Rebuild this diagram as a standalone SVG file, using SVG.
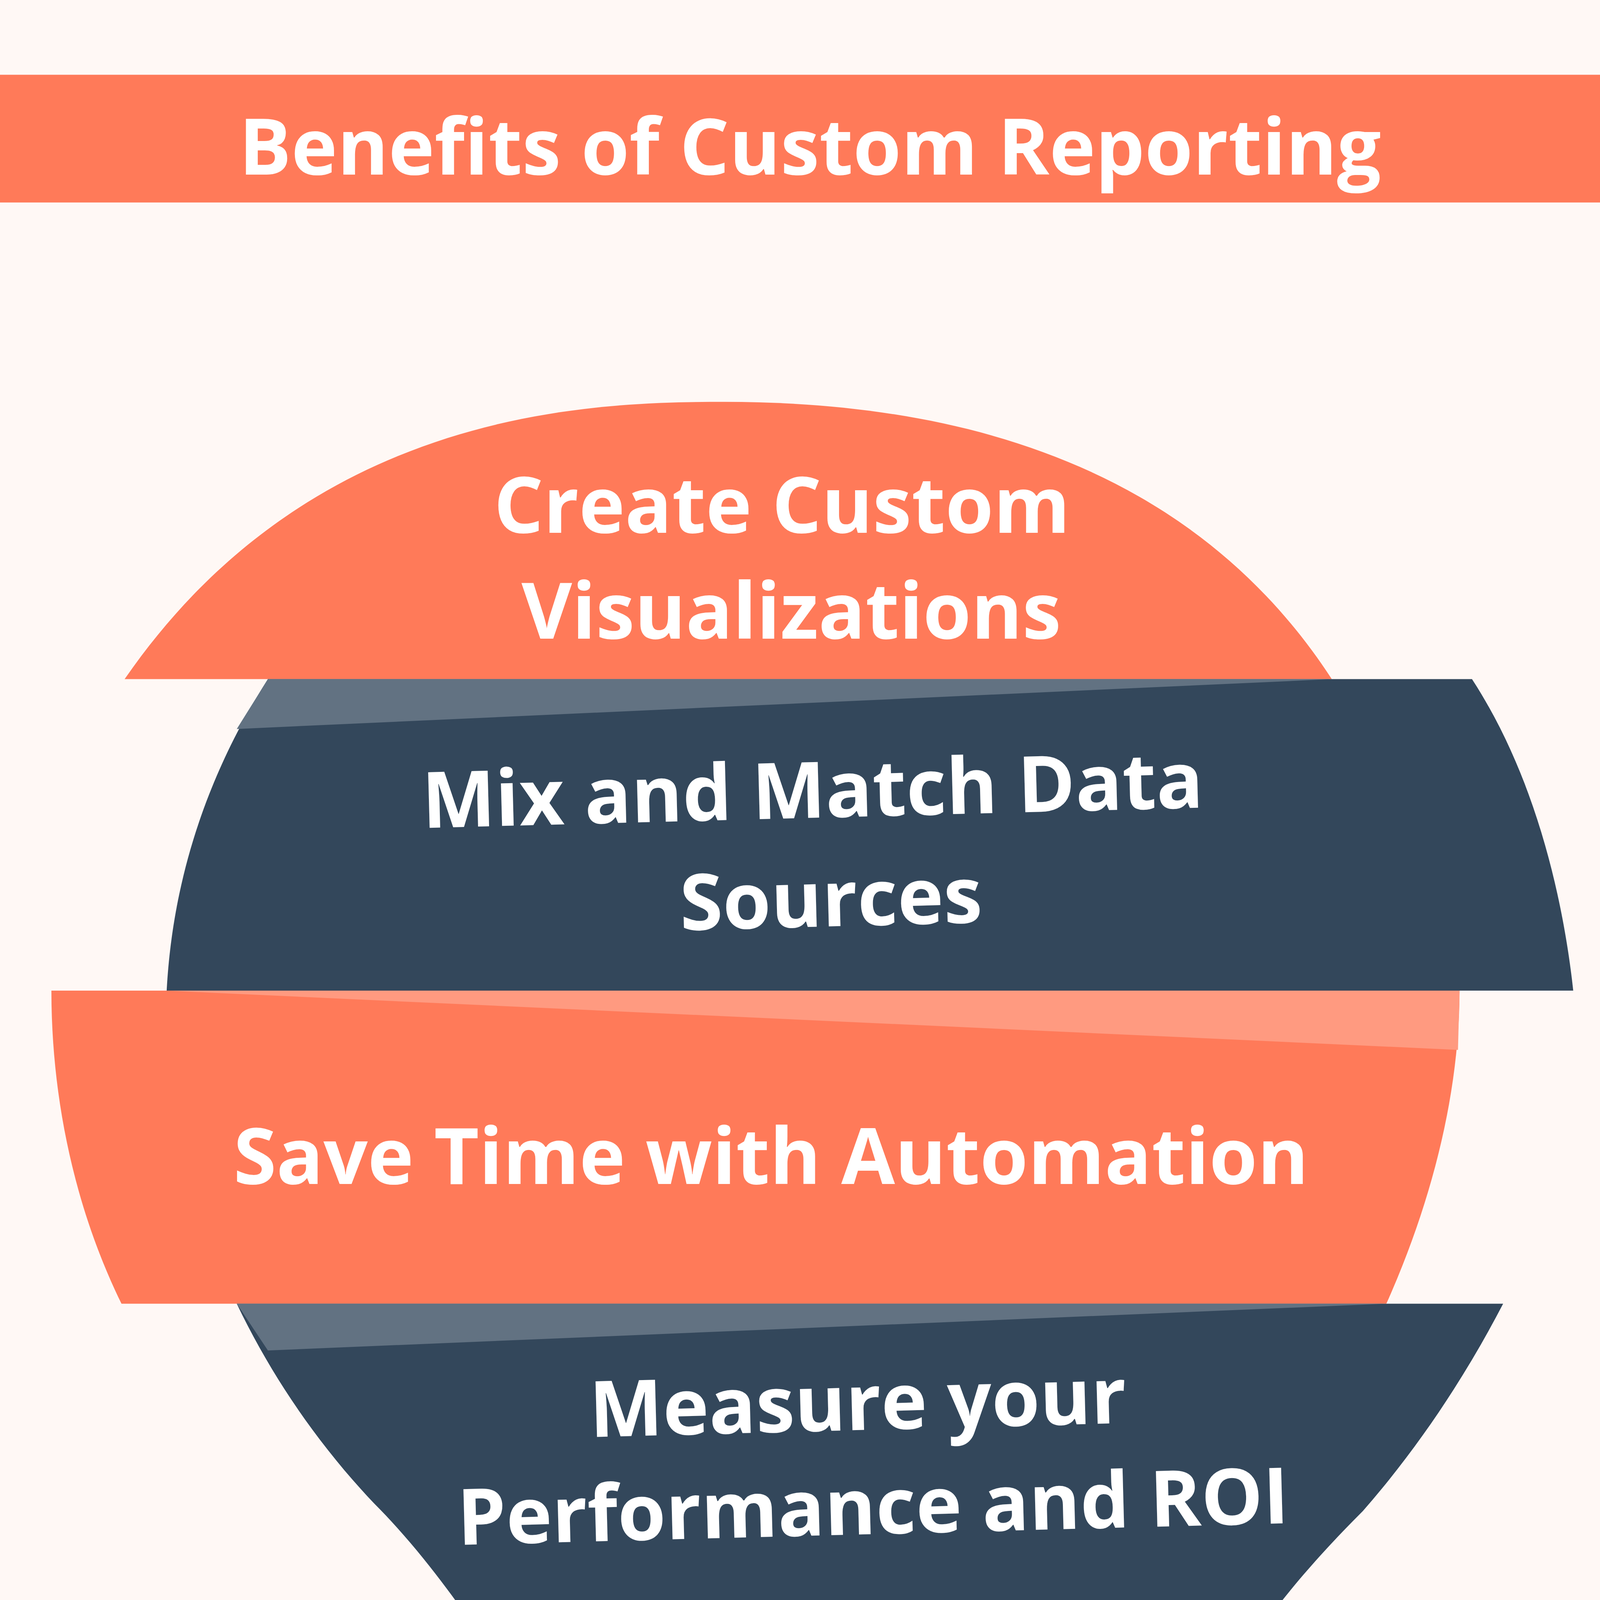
<svg xmlns="http://www.w3.org/2000/svg" width="4167" height="6251" viewBox="0 0 4167 6251">
<style>
.c{fill:#FF7A59}.d{fill:#33475B}.ld{fill:#627282}.lc{fill:#FF9A80}
text{font-family:"Open Sans","Liberation Sans",sans-serif;font-weight:700;fill:#fff;text-anchor:middle;font-size:50px}
</style>
<rect width="4167" height="6251" fill="#FFF8F5"/>
<g transform="scale(3.9876)">
<g id="header"><rect class="c" x="0" y="48" width="1045" height="82"/><text x="520" y="112" font-size="56">Benefits of Custom Reporting</text></g>
<g id="seg1"><path class="c" d="M80 436 C200 262 380 258 465 258 C600 258 760 290 855 436 Z"/>
<text x="502" y="342">Create Custom</text><text x="508" y="410">Visualizations</text></g>
<g id="seg2"><path class="d" d="M172 436 L945 436 C990 505 1005 590 1010 636 L107 636 C110 580 125 510 172 436 Z"/>
<path class="ld" d="M172 436 L855 436 L152 468 Z"/>
<g transform="rotate(-1.5 523 560)"><text x="523" y="525">Mix and Match Data</text><text x="533" y="595">Sources</text></g></g>
<g id="seg3"><path class="c" d="M33 636 L937 636 C937 700 920 770 890 837 L78 837 C50 780 33 710 33 636 Z"/>
<path class="lc" d="M107 636 L937 636 L936 674 Z"/>
<text x="495" y="760">Save Time with Automation</text></g>
<g id="seg4"><path class="d" d="M152 837 L965 837 C940 885 910 930 875 970 C850 995 830 1018 815 1038 L300 1038 C285 1017 265 990 240 965 C205 928 175 885 152 837 Z"/>
<path class="ld" d="M152 837 L890 837 L172 867 Z"/>
<g transform="rotate(-1.5 555 950)"><text x="552" y="918">Measure your</text><text x="560" y="985">Performance and ROI</text></g></g>
<g id="seg5"><path class="c" d="M224 1038 L792 1038 C755 1085 720 1135 692 1190 C685 1203 670 1210 655 1210 L358 1210 C343 1210 330 1203 323 1193 C295 1140 262 1088 224 1038 Z"/>
<path class="lc" d="M300 1038 L780 1038 L765 1055 Z"/>
<text x="502" y="1113">Team</text><text x="510" y="1183">Productivity</text></g>
<g id="base">
<rect class="d" x="373" y="1241" width="300" height="37" rx="5"/>
<rect class="d" x="373" y="1300" width="300" height="37" rx="5"/>
<rect class="d" x="373" y="1356" width="300" height="37" rx="5"/>
<rect class="d" x="421" y="1411" width="205" height="37" rx="5"/>
</g>
</g>
</svg>
